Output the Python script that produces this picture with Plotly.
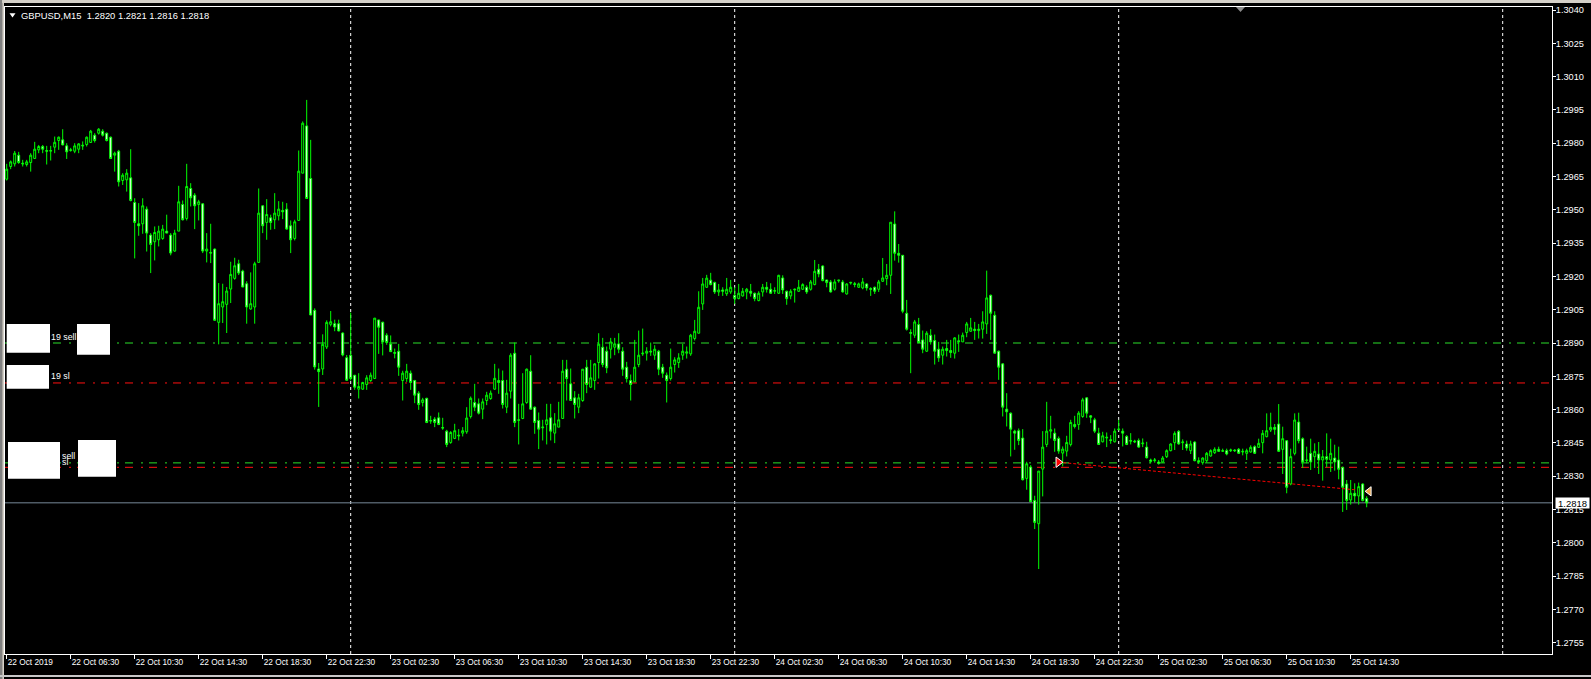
import plotly.graph_objects as go

# ---------------- data (GBPUSD M15) ----------------
opens = [1.29638,1.29695,1.29707,1.29746,1.29710,1.29704,1.29713,1.29731,1.29770,1.29785,
1.29767,1.29764,1.29782,1.29812,1.29815,1.29788,1.29767,1.29764,1.29773,1.29791,
1.29794,1.29803,1.29836,1.29845,1.29854,1.29845,1.29827,1.29746,1.29764,1.29632,
1.29635,1.29644,1.29533,1.29437,1.29437,1.29503,1.29386,1.29356,1.29365,1.29371,
1.29404,1.29386,1.29314,1.29404,1.29524,1.29461,1.29596,1.29566,1.29524,1.29527,
1.29314,1.29308,1.29323,1.28993,1.29062,1.29074,1.29143,1.29191,1.29257,1.29224,
1.29167,1.29053,1.29062,1.29263,1.29518,1.29443,1.29464,1.29455,1.29473,1.29497,
1.29503,1.29428,1.29371,1.29452,1.29665,1.29878,1.29641,1.29047,1.28783,1.28783,
1.28882,1.28984,1.28987,1.28987,1.28945,1.28834,1.28845,1.28755,1.28692,1.28692,
1.28713,1.28731,1.28740,1.29004,1.28994,1.28935,1.28895,1.28857,1.28863,1.28731,
1.28740,1.28764,1.28731,1.28674,1.28632,1.28651,1.28548,1.28557,1.28563,1.28519,
1.28503,1.28452,1.28470,1.28485,1.28494,1.28500,1.28569,1.28632,1.28626,1.28602,
1.28641,1.28650,1.28692,1.28731,1.28731,1.28611,1.28683,1.28854,1.28551,1.28560,
1.28632,1.28773,1.28611,1.28551,1.28518,1.28533,1.28563,1.28494,1.28521,1.28560,
1.28782,1.28716,1.28653,1.28611,1.28641,1.28791,1.28701,1.28731,1.28812,1.28881,
1.28863,1.28872,1.28881,1.28896,1.28863,1.28791,1.28731,1.28725,1.28803,1.28851,
1.28854,1.28863,1.28845,1.28863,1.28791,1.28755,1.28740,1.28803,1.28812,1.28845,
1.28854,1.28851,1.28920,1.28944,1.29076,1.29151,1.29183,1.29173,1.29130,1.29139,
1.29122,1.29130,1.29115,1.29100,1.29112,1.29130,1.29133,1.29124,1.29091,1.29130,
1.29151,1.29142,1.29133,1.29124,1.29193,1.29133,1.29112,1.29139,1.29133,1.29142,
1.29151,1.29142,1.29163,1.29232,1.29247,1.29184,1.29175,1.29142,1.29180,1.29175,
1.29121,1.29170,1.29167,1.29151,1.29148,1.29166,1.29145,1.29151,1.29142,1.29178,
1.29190,1.29205,1.29436,1.29304,1.29295,1.29034,1.28947,1.28935,1.28983,1.28914,
1.28863,1.28935,1.28911,1.28872,1.28845,1.28875,1.28866,1.28854,1.28910,1.28905,
1.28947,1.28953,1.28962,1.28956,1.28962,1.28986,1.29115,1.29025,1.28863,1.28806,
1.28602,1.28584,1.28503,1.28505,1.28472,1.28290,1.28341,1.28191,1.28086,1.28332,
1.28443,1.28503,1.28494,1.28470,1.28404,1.28413,1.28443,1.28533,1.28533,1.28569,
1.28653,1.28572,1.28554,1.28494,1.28455,1.28476,1.28464,1.28455,1.28509,1.28503,
1.28479,1.28461,1.28458,1.28461,1.28446,1.28431,1.28373,1.28370,1.28364,1.28364,
1.28388,1.28415,1.28451,1.28502,1.28451,1.28445,1.28415,1.28454,1.28370,1.28361,
1.28370,1.28391,1.28406,1.28421,1.28412,1.28415,1.28415,1.28418,1.28421,1.28409,
1.28403,1.28409,1.28433,1.28430,1.28451,1.28478,1.28508,1.28520,1.28535,1.28421,
1.28460,1.28265,1.28403,1.28544,1.28469,1.28370,1.28403,1.28388,1.28400,1.28373,
1.28388,1.28373,1.28382,1.28373,1.28340,1.28265,1.28193,1.28223,1.28211,1.28265,
1.28200]

highs = [1.29707,1.29722,1.29765,1.29761,1.29725,1.29725,1.29755,1.29806,1.29792,1.29792,
1.29788,1.29788,1.29830,1.29830,1.29863,1.29800,1.29779,1.29800,1.29800,1.29808,
1.29830,1.29860,1.29845,1.29868,1.29863,1.29848,1.29830,1.29762,1.29770,1.29665,
1.29683,1.29773,1.29552,1.29530,1.29552,1.29515,1.29395,1.29425,1.29428,1.29432,
1.29478,1.29395,1.29410,1.29608,1.29542,1.29707,1.29620,1.29575,1.29545,1.29530,
1.29395,1.29437,1.29326,1.29170,1.29167,1.29152,1.29266,1.29284,1.29275,1.29230,
1.29178,1.29218,1.29266,1.29596,1.29521,1.29548,1.29478,1.29575,1.29539,1.29536,
1.29530,1.29452,1.29455,1.29767,1.29898,1.29995,1.29815,1.29056,1.28810,1.28939,
1.29002,1.29044,1.29005,1.29005,1.28948,1.28846,1.29037,1.28755,1.28764,1.28725,
1.28755,1.28767,1.29012,1.29004,1.28995,1.28944,1.28934,1.28875,1.28896,1.28775,
1.28806,1.28776,1.28734,1.28683,1.28653,1.28653,1.28572,1.28566,1.28587,1.28563,
1.28509,1.28503,1.28536,1.28512,1.28521,1.28611,1.28659,1.28716,1.28650,1.28650,
1.28680,1.28686,1.28806,1.28785,1.28776,1.28734,1.28854,1.28902,1.28626,1.28764,
1.28785,1.28845,1.28614,1.28587,1.28554,1.28626,1.28626,1.28584,1.28635,1.28824,
1.28824,1.28785,1.28683,1.28671,1.28782,1.28824,1.28824,1.28809,1.28944,1.28923,
1.28884,1.28923,1.28923,1.28944,1.28881,1.28815,1.28758,1.28914,1.28956,1.28965,
1.28881,1.28902,1.28890,1.28869,1.28806,1.28767,1.28875,1.28836,1.28854,1.28896,
1.28884,1.28941,1.29004,1.29133,1.29193,1.29207,1.29216,1.29176,1.29166,1.29151,
1.29193,1.29184,1.29151,1.29166,1.29148,1.29148,1.29166,1.29127,1.29133,1.29166,
1.29175,1.29169,1.29151,1.29207,1.29205,1.29136,1.29142,1.29145,1.29184,1.29169,
1.29160,1.29184,1.29274,1.29256,1.29250,1.29184,1.29184,1.29187,1.29184,1.29184,
1.29169,1.29175,1.29175,1.29172,1.29193,1.29169,1.29151,1.29154,1.29184,1.29283,
1.29256,1.29444,1.29493,1.29346,1.29296,1.29094,1.28962,1.29004,1.29013,1.28956,
1.28953,1.28962,1.28938,1.28905,1.28884,1.28914,1.28914,1.28926,1.28938,1.28947,
1.28995,1.29013,1.28995,1.28986,1.29043,1.29226,1.29118,1.29043,1.28866,1.28809,
1.28674,1.28587,1.28509,1.28515,1.28512,1.28365,1.28350,1.28212,1.28323,1.28503,
1.28635,1.28572,1.28515,1.28479,1.28434,1.28482,1.28554,1.28572,1.28593,1.28653,
1.28656,1.28575,1.28563,1.28518,1.28500,1.28497,1.28485,1.28515,1.28554,1.28515,
1.28485,1.28494,1.28464,1.28470,1.28470,1.28455,1.28379,1.28382,1.28373,1.28391,
1.28421,1.28448,1.28502,1.28508,1.28466,1.28460,1.28460,1.28457,1.28385,1.28385,
1.28409,1.28421,1.28430,1.28433,1.28424,1.28424,1.28424,1.28421,1.28427,1.28424,
1.28424,1.28439,1.28439,1.28469,1.28508,1.28583,1.28586,1.28535,1.28625,1.28523,
1.28463,1.28424,1.28583,1.28586,1.28475,1.28433,1.28469,1.28448,1.28454,1.28418,
1.28493,1.28469,1.28442,1.28433,1.28343,1.28283,1.28283,1.28268,1.28271,1.28268,
1.28210]

lows = [1.29632,1.29683,1.29695,1.29707,1.29695,1.29695,1.29672,1.29731,1.29755,1.29755,
1.29704,1.29722,1.29755,1.29770,1.29791,1.29729,1.29762,1.29755,1.29755,1.29770,
1.29785,1.29803,1.29803,1.29839,1.29830,1.29808,1.29731,1.29672,1.29605,1.29612,
1.29582,1.29538,1.29281,1.29383,1.29392,1.29312,1.29215,1.29272,1.29335,1.29365,
1.29395,1.29295,1.29311,1.29404,1.29452,1.29452,1.29515,1.29413,1.29452,1.29305,
1.29263,1.29260,1.29002,1.28894,1.28990,1.28945,1.29080,1.29185,1.29206,1.29152,
1.28987,1.29050,1.28987,1.29263,1.29395,1.29365,1.29410,1.29413,1.29452,1.29458,
1.29410,1.29305,1.29362,1.29452,1.29665,1.29551,1.29026,1.28780,1.28612,1.28756,
1.28873,1.28975,1.28953,1.28953,1.28840,1.28732,1.28731,1.28689,1.28650,1.28689,
1.28689,1.28725,1.28740,1.28851,1.28844,1.28892,1.28861,1.28831,1.28752,1.28641,
1.28725,1.28689,1.28629,1.28599,1.28614,1.28539,1.28536,1.28521,1.28530,1.28509,
1.28431,1.28446,1.28467,1.28461,1.28479,1.28491,1.28560,1.28593,1.28578,1.28557,
1.28620,1.28644,1.28689,1.28671,1.28605,1.28584,1.28650,1.28521,1.28443,1.28557,
1.28626,1.28602,1.28491,1.28422,1.28461,1.28443,1.28461,1.28449,1.28521,1.28560,
1.28641,1.28641,1.28560,1.28584,1.28635,1.28674,1.28698,1.28689,1.28740,1.28791,
1.28764,1.28830,1.28845,1.28854,1.28752,1.28722,1.28641,1.28725,1.28791,1.28842,
1.28821,1.28842,1.28824,1.28755,1.28743,1.28632,1.28731,1.28767,1.28788,1.28824,
1.28830,1.28842,1.28911,1.28944,1.29049,1.29148,1.29160,1.29121,1.29112,1.29112,
1.29112,1.29121,1.29076,1.29097,1.29109,1.29097,1.29109,1.29088,1.29088,1.29109,
1.29127,1.29121,1.29121,1.29121,1.29121,1.29072,1.29097,1.29082,1.29130,1.29139,
1.29121,1.29136,1.29160,1.29196,1.29178,1.29151,1.29127,1.29136,1.29172,1.29127,
1.29118,1.29163,1.29151,1.29148,1.29142,1.29136,1.29112,1.29121,1.29130,1.29175,
1.29160,1.29121,1.29271,1.29262,1.29034,1.28956,1.28764,1.28923,1.28899,1.28854,
1.28860,1.28893,1.28803,1.28815,1.28803,1.28839,1.28833,1.28830,1.28860,1.28905,
1.28926,1.28950,1.28914,1.28920,1.28920,1.28941,1.28914,1.28854,1.28734,1.28569,
1.28524,1.28389,1.28419,1.28440,1.28281,1.28239,1.28185,1.28062,1.27882,1.28209,
1.28431,1.28470,1.28410,1.28401,1.28344,1.28389,1.28434,1.28515,1.28509,1.28563,
1.28563,1.28539,1.28494,1.28443,1.28452,1.28431,1.28446,1.28452,1.28509,1.28434,
1.28440,1.28443,1.28449,1.28428,1.28431,1.28380,1.28358,1.28361,1.28352,1.28361,
1.28382,1.28412,1.28418,1.28442,1.28418,1.28415,1.28400,1.28367,1.28355,1.28352,
1.28361,1.28388,1.28400,1.28409,1.28409,1.28394,1.28409,1.28409,1.28400,1.28394,
1.28373,1.28406,1.28400,1.28427,1.28403,1.28475,1.28499,1.28487,1.28409,1.28310,
1.28223,1.28259,1.28394,1.28448,1.28337,1.28358,1.28328,1.28337,1.28310,1.28280,
1.28340,1.28319,1.28325,1.28286,1.28139,1.28148,1.28172,1.28181,1.28172,1.28187,
1.28160]

closes = [1.29683,1.29716,1.29755,1.29713,1.29707,1.29716,1.29746,1.29773,1.29785,1.29773,
1.29764,1.29767,1.29804,1.29827,1.29792,1.29761,1.29770,1.29788,1.29797,1.29788,
1.29827,1.29854,1.29812,1.29863,1.29836,1.29812,1.29731,1.29755,1.29626,1.29656,
1.29665,1.29542,1.29443,1.29428,1.29518,1.29395,1.29344,1.29398,1.29404,1.29413,
1.29395,1.29305,1.29395,1.29536,1.29455,1.29605,1.29554,1.29518,1.29536,1.29314,
1.29323,1.29305,1.29002,1.29077,1.29086,1.29134,1.29209,1.29248,1.29215,1.29152,
1.29062,1.29077,1.29257,1.29485,1.29428,1.29479,1.29443,1.29485,1.29503,1.29491,
1.29413,1.29365,1.29446,1.29674,1.29890,1.29551,1.29026,1.28792,1.28771,1.28894,
1.28993,1.28996,1.28972,1.28954,1.28846,1.28732,1.28740,1.28701,1.28704,1.28722,
1.28743,1.28755,1.29012,1.28971,1.28905,1.28902,1.28861,1.28854,1.28791,1.28764,
1.28773,1.28722,1.28665,1.28623,1.28644,1.28542,1.28551,1.28542,1.28533,1.28517,
1.28443,1.28497,1.28505,1.28482,1.28505,1.28562,1.28651,1.28611,1.28584,1.28635,
1.28665,1.28674,1.28741,1.28722,1.28623,1.28674,1.28845,1.28542,1.28554,1.28626,
1.28782,1.28602,1.28542,1.28512,1.28521,1.28554,1.28503,1.28536,1.28554,1.28773,
1.28740,1.28641,1.28623,1.28653,1.28782,1.28713,1.28743,1.28806,1.28895,1.28803,
1.28788,1.28905,1.28896,1.28872,1.28782,1.28740,1.28713,1.28791,1.28845,1.28854,
1.28863,1.28860,1.28872,1.28782,1.28764,1.28731,1.28791,1.28824,1.28833,1.28863,
1.28860,1.28935,1.28953,1.29061,1.29166,1.29192,1.29163,1.29130,1.29139,1.29133,
1.29142,1.29151,1.29100,1.29124,1.29133,1.29142,1.29124,1.29100,1.29124,1.29151,
1.29142,1.29124,1.29136,1.29205,1.29139,1.29100,1.29133,1.29142,1.29151,1.29163,
1.29130,1.29175,1.29223,1.29211,1.29181,1.29172,1.29130,1.29175,1.29183,1.29130,
1.29166,1.29173,1.29164,1.29166,1.29175,1.29148,1.29142,1.29133,1.29175,1.29193,
1.29205,1.29444,1.29304,1.29295,1.29043,1.28962,1.28944,1.28995,1.28902,1.28872,
1.28944,1.28905,1.28863,1.28833,1.28872,1.28866,1.28857,1.28923,1.28906,1.28935,
1.28986,1.28968,1.28956,1.28962,1.28995,1.29103,1.29034,1.28854,1.28791,1.28611,
1.28590,1.28512,1.28494,1.28461,1.28284,1.28356,1.28185,1.28092,1.28323,1.28431,
1.28503,1.28509,1.28461,1.28413,1.28422,1.28452,1.28542,1.28524,1.28584,1.28644,
1.28584,1.28566,1.28503,1.28443,1.28482,1.28473,1.28461,1.28503,1.28512,1.28494,
1.28443,1.28458,1.28455,1.28431,1.28449,1.28383,1.28367,1.28373,1.28358,1.28382,
1.28415,1.28445,1.28493,1.28445,1.28454,1.28427,1.28445,1.28370,1.28364,1.28382,
1.28403,1.28415,1.28421,1.28412,1.28415,1.28400,1.28418,1.28415,1.28403,1.28412,
1.28415,1.28430,1.28403,1.28448,1.28493,1.28505,1.28520,1.28511,1.28412,1.28469,
1.28250,1.28388,1.28553,1.28460,1.28364,1.28373,1.28364,1.28412,1.28373,1.28388,
1.28376,1.28403,1.28364,1.28331,1.28250,1.28190,1.28223,1.28211,1.28253,1.28190,
1.28180]

bar_index = list(range(len(closes)))

x_label_bars = [0, 16, 32, 48, 64, 80, 96, 112, 128, 144, 160, 176, 192, 208, 224, 240,
                256, 272, 288, 304, 320, 336]
x_labels = ["22 Oct 2019", "22 Oct 06:30", "22 Oct 10:30", "22 Oct 14:30", "22 Oct 18:30",
            "22 Oct 22:30", "23 Oct 02:30", "23 Oct 06:30", "23 Oct 10:30", "23 Oct 14:30",
            "23 Oct 18:30", "23 Oct 22:30", "24 Oct 02:30", "24 Oct 06:30", "24 Oct 10:30",
            "24 Oct 14:30", "24 Oct 18:30", "24 Oct 22:30", "25 Oct 02:30", "25 Oct 06:30",
            "25 Oct 10:30", "25 Oct 14:30"]
y_ticks = [1.3040, 1.3025, 1.3010, 1.2995, 1.2980, 1.2965, 1.2950, 1.2935, 1.2920, 1.2905,
           1.2890, 1.2875, 1.2860, 1.2845, 1.2830, 1.2815, 1.2800, 1.2785, 1.2770, 1.2755]
day_start_bars = [86, 182, 278, 374]

order_levels = [1.2890, 1.2872, 1.2836, 1.2834]
order_kinds = ["order", "sl", "order", "sl"]
order_labels = ["19 sell", "19 sl", "sell", "sl"]
current_price = 1.2818
symbol_title = "GBPUSD,M15"
ohlc_title = ["1.2820", "1.2821", "1.2816", "1.2818"]

trade_bars = [262.9, 337.6]
trade_prices = [1.28363, 1.28238]
last_marker_bar = [340.6]
last_marker_price = [1.28232]

# ---------------- layout constants ----------------
W, H = 1591, 679
ML, MR, MT, MB = 5, 39, 7, 25
PW, PH = W - ML - MR, H - MT - MB
FONT = "Liberation Sans, Arial, sans-serif"
LIME = "#00ff00"
ORDER_GREEN = "#2ade2a"
SL_RED = "#ff1010"


def px(x):
    return (x - ML) / PW


def py(y):
    return (H - MB - y) / PH


fig = go.Figure()
fig.add_trace(go.Candlestick(
    x=bar_index, open=opens, high=highs, low=lows, close=closes,
    increasing=dict(line=dict(color=LIME, width=1), fillcolor="#000000"),
    decreasing=dict(line=dict(color=LIME, width=1), fillcolor="#ffffff"),
    whiskerwidth=0, hoverinfo="skip", showlegend=False,
))

shapes = []
# day separators (dashed white)
for b in day_start_bars:
    shapes.append(dict(type="line", xref="x", yref="paper", x0=b, x1=b, y0=0, y1=1,
                       line=dict(color="#ffffff", width=1, dash="3px,3px"), layer="below"))
# order lines
for lvl, kind in zip(order_levels, order_kinds):
    col = ORDER_GREEN if kind == "order" else SL_RED
    shapes.append(dict(type="line", xref="paper", yref="y", x0=0, x1=1, y0=lvl, y1=lvl,
                       line=dict(color=col, width=1, dash="8px,8px,2px,6px"), layer="below"))
# current bid line
shapes.append(dict(type="line", xref="paper", yref="y", x0=0, x1=1, y0=current_price,
                   y1=current_price, line=dict(color="#778899", width=1), layer="below"))

# white blocks hiding the order ticket text
for (x0, y0, x1, y1) in [(6.7, 324, 50, 352.7), (77, 324, 110, 354.7), (6.7, 365, 49, 388.7),
                         (8, 442, 60, 478.7), (78, 440, 116, 476.7)]:
    shapes.append(dict(type="rect", xref="paper", yref="paper", x0=px(x0), x1=px(x1),
                       y0=py(y1), y1=py(y0), fillcolor="#ffffff", line=dict(width=0),
                       layer="above"))

# window frame
shapes.append(dict(type="rect", xref="paper", yref="paper", x0=px(0), x1=px(1591),
                   y0=py(3), y1=py(0), fillcolor="#d4d0c8", line=dict(width=0)))
shapes.append(dict(type="rect", xref="paper", yref="paper", x0=px(0), x1=px(2.2),
                   y0=py(679), y1=py(0), fillcolor="#808080", line=dict(width=0)))
shapes.append(dict(type="rect", xref="paper", yref="paper", x0=px(2.2), x1=px(4),
                   y0=py(679), y1=py(0), fillcolor="#d4d0c8", line=dict(width=0)))
shapes.append(dict(type="rect", xref="paper", yref="paper", x0=px(0), x1=px(1591),
                   y0=py(677), y1=py(675), fillcolor="#c8c8c8", line=dict(width=0)))
# title triangle
shapes.append(dict(type="path", xref="paper", yref="paper",
                   path=f"M {px(9.5)},{py(13.3)} L {px(15.5)},{py(13.3)} L {px(12.5)},{py(17.5)} Z",
                   fillcolor="#ffffff", line=dict(width=0)))
# chart shift marker
shapes.append(dict(type="path", xref="paper", yref="paper",
                   path=f"M {px(1236)},{py(7)} L {px(1245)},{py(7)} L {px(1240.5)},{py(12)} Z",
                   fillcolor="#8c8c8c", line=dict(width=0)))

# trade history line and markers
fig.add_trace(go.Scatter(x=trade_bars, y=trade_prices, mode="lines",
                         line=dict(color="#ff0000", width=1, dash="3px,2px"),
                         hoverinfo="skip", showlegend=False))
fig.add_trace(go.Scatter(x=trade_bars[:1], y=trade_prices[:1], mode="markers",
                         marker=dict(symbol="triangle-right", size=9, color="#ff0000",
                                     line=dict(color="#ffffff", width=1)),
                         hoverinfo="skip", showlegend=False))
fig.add_trace(go.Scatter(x=last_marker_bar, y=last_marker_price, mode="markers",
                         marker=dict(symbol="triangle-left", size=8, color="#e8a040",
                                     line=dict(color="#ffffff", width=1)),
                         hoverinfo="skip", showlegend=False))

annotations = []
annotations.append(dict(xref="paper", yref="paper", x=px(20), y=py(15.7), xanchor="left",
                        yanchor="middle", showarrow=False, borderpad=0,
                        text=symbol_title + "\u00a0\u00a0" + " ".join(ohlc_title),
                        font=dict(family=FONT, size=9.4, color="#ffffff")))
for txt, (xp, yp) in zip(order_labels, [(49.5, 336.7), (49.5, 376), (61, 455.5), (61, 462)]):
    annotations.append(dict(xref="paper", yref="paper", x=px(xp), y=py(yp), xanchor="left",
                            yanchor="middle", showarrow=False, text=txt, borderpad=0,
                            font=dict(family=FONT, size=8.8, color="#ffffff")))
annotations.append(dict(xref="paper", yref="y", x=px(1555), y=current_price, xanchor="left",
                        yanchor="middle", showarrow=False, text=f"{current_price:.4f}",
                        bgcolor="#ffffff", borderpad=0, width=33, height=10,
                        font=dict(family=FONT, size=9.5, color="#000000")))

fig.update_layout(
    template="none",
    width=W, height=H,
    margin=dict(l=ML, r=MR, t=MT, b=MB, pad=0),
    paper_bgcolor="#000000", plot_bgcolor="#000000",
    showlegend=False, hovermode=False,
    shapes=shapes, annotations=annotations,
    font=dict(family=FONT, size=10, color="#ffffff"),
    xaxis=dict(range=[-0.425, 386.325], rangeslider=dict(visible=False), showgrid=False,
               zeroline=False, showline=True, mirror=True, linecolor="#ffffff", linewidth=1,
               ticks="outside", ticklen=4, tickwidth=1, tickcolor="#ffffff",
               tickvals=x_label_bars, ticktext=x_labels, ticklabelposition="outside right",
               tickangle=0, tickfont=dict(family=FONT, size=8.3, color="#ffffff"),
               automargin=False, fixedrange=True),
    yaxis=dict(range=[1.274991, 1.304135], side="right", showgrid=False, zeroline=False,
               showline=True, mirror=True, linecolor="#ffffff", linewidth=1,
               ticks="outside", ticklen=3, tickwidth=1, tickcolor="#ffffff",
               tickvals=y_ticks, ticktext=[f"{v:.4f}" for v in y_ticks],
               ticklabelstandoff=-2,
               tickfont=dict(family=FONT, size=9.2, color="#ffffff"), automargin=False,
               fixedrange=True),
)

fig.write_html("out.html", config={"displayModeBar": False},
               post_script="document.body.style.margin='0';document.body.style.overflow='hidden';")
